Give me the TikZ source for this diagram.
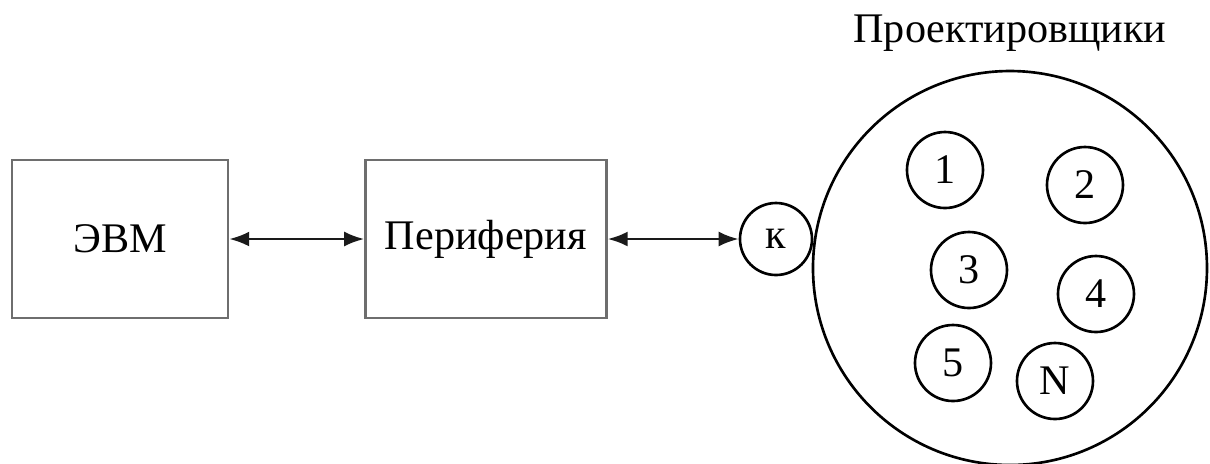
\documentclass[tikz,border=0pt]{standalone}
\usepackage{fontspec}
\setmainfont{Liberation Serif}
\usetikzlibrary{
  arrows.meta,
  positioning
}
\definecolor{bdBox}{HTML}{6E6E6E}
\definecolor{bdLine}{HTML}{1A1A1A}
\tikzset{
  blk/.style={
    draw=bdBox, line width=0.7pt, minimum width=21.6mm, minimum height=15.8mm,
    inner sep=0pt, font=\fontsize{12}{14}\selectfont
  },
  ring/.style={
    draw=black, circle, line width=0.75pt, inner sep=0pt, minimum size=7.6mm,
    font=\fontsize{12}{14}\selectfont
  },
  caption/.style={font=\fontsize{12}{14}\selectfont, inner sep=0pt, anchor=base},
  link/.style={{Latex[length=2mm, width=1.5mm]}-{Latex[length=2mm, width=1.5mm]}, line width=0.75pt, bdLine}
}
\begin{document}
\begin{tikzpicture}[x=0.1mm, y=-0.1mm]
  \useasboundingbox (0,0) rectangle (1210,463);
  \node[blk] (evm) at (120,239) {ЭВМ};
  \node[blk, minimum width=24.1mm, right=13.5mm of evm] (per) {Периферия};
  \node[ring, minimum size=7.2mm] (k) at (776,239) {к};
  \node[ring, minimum size=39.4mm] (team) at (1010,268) {};
  \node[caption] (title) at (1010,42) {Проектировщики};
  % designers inside the group
  \node[ring] (d1) at (945,170) {1};
  \node[ring] (d2) at (1085,185) {2};
  \node[ring] (d3) at (969,270) {3};
  \node[ring] (d4) at (1096,294) {4};
  \node[ring] (d5) at (953,363) {5};
  \node[ring] (dN) at (1055,381) {N};
  \draw[link] (evm) -- (per);
  \draw[link] (per) -- (k);
\end{tikzpicture}
\end{document}
